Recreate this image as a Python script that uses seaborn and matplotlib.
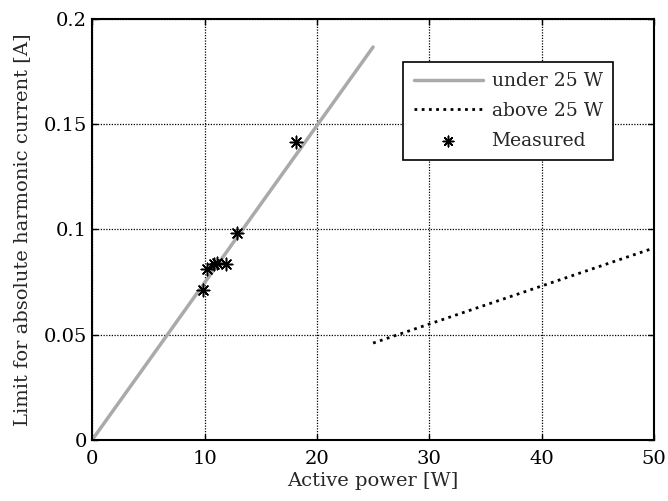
import matplotlib
matplotlib.use("Agg")
import matplotlib.pyplot as plt
import seaborn as sns
import pandas as pd

# Data
under_x = [0, 25]
under_y = [0.0, 0.1867]
above_x = [25, 50]
above_y = [0.046, 0.0912]
meas_x = [9.9, 10.2, 10.8, 11.1, 11.9, 12.9, 18.1]
meas_y = [0.0713, 0.0812, 0.0836, 0.0841, 0.0836, 0.0983, 0.1415]

sns.set_style("white")
plt.rcParams['font.family'] = ['DejaVu Serif']

fig = plt.figure(figsize=(6.68, 5.01), dpi=100)
ax = fig.add_axes([0.138, 0.122, 0.841, 0.840])

df_u = pd.DataFrame({"x": under_x, "y": under_y})
df_a = pd.DataFrame({"x": above_x, "y": above_y})
df_m = pd.DataFrame({"x": meas_x, "y": meas_y})

sns.lineplot(data=df_u, x="x", y="y", ax=ax, color="#aaaaaa", lw=2.5, label="under 25 W")
sns.lineplot(data=df_a, x="x", y="y", ax=ax, color="black", lw=2, linestyle=(0, (1, 1.6)), label="above 25 W")
sns.scatterplot(data=df_m, x="x", y="y", ax=ax, marker=(8, 2, 0), s=80, color="black",
                linewidth=1.1, edgecolor="black", label="Measured", zorder=5)

ax.set_xlim(0, 50)
ax.set_ylim(0, 0.2)
ax.set_xticks([0, 10, 20, 30, 40, 50])
ax.set_yticks([0, 0.05, 0.1, 0.15, 0.2])
ax.set_yticklabels(["0", "0.05", "0.1", "0.15", "0.2"])
ax.grid(True, color="black", linestyle=(0, (1, 1.2)), linewidth=0.9)
ax.set_axisbelow(True)
for s in ax.spines.values():
    s.set_color("black")
    s.set_linewidth(1.5)
ax.tick_params(direction="in", length=4, width=1, labelsize=14, colors="black",
               top=True, right=True, bottom=True, left=True)
ax.tick_params(axis="x", pad=7)
ax.tick_params(axis="y", pad=4)
ax.set_xlabel("Active power [W]", fontsize=14, labelpad=3)
ax.set_ylabel("Limit for absolute harmonic current [A]", fontsize=14, labelpad=9)

leg = ax.legend(loc="upper right", bbox_to_anchor=(0.927, 0.898), borderaxespad=0,
                fontsize=13.5, frameon=True, markerscale=0.85,
                fancybox=False, edgecolor="black", framealpha=1, handlelength=3.7,
                borderpad=0.55, labelspacing=0.62, handletextpad=0.45)
leg.get_frame().set_linewidth(1.2)

fig.savefig("out.png", dpi=100)
